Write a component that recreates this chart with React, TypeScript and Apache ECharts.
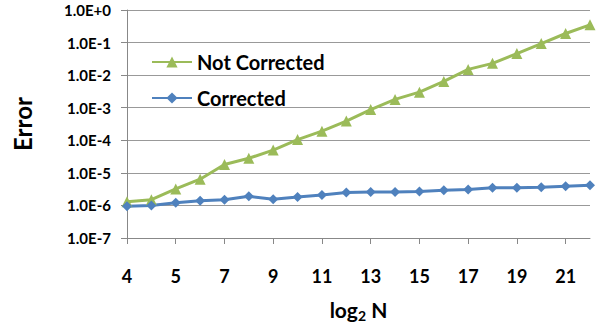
import React, { useEffect, useRef } from "react";
import * as echarts from "echarts";

const categories = ["4", "4.5", "5", "6", "7", "8", "9", "10", "11", "12", "13", "14", "15", "16", "17", "18", "19", "20", "21", "22"];
const notCorrected = [1.3e-6, 1.5e-6, 3.2e-6, 6.4e-6, 1.8e-5, 2.8e-5, 5.0e-5, 1.05e-4, 1.9e-4, 3.9e-4, 8.8e-4, 1.8e-3, 3.0e-3, 6.4e-3, 1.5e-2, 2.3e-2, 4.6e-2, 9.3e-2, 1.9e-1, 3.5e-1];
const corrected = [9.5e-7, 1.0e-6, 1.2e-6, 1.4e-6, 1.5e-6, 1.9e-6, 1.55e-6, 1.8e-6, 2.1e-6, 2.5e-6, 2.6e-6, 2.6e-6, 2.7e-6, 2.9e-6, 3.1e-6, 3.5e-6, 3.5e-6, 3.6e-6, 3.9e-6, 4.2e-6];

const FONT = "Lato, 'Open Sans', sans-serif";

export default function App() {
  const ref = useRef<HTMLDivElement>(null);
  useEffect(() => {
    const chart = echarts.init(ref.current!, null, { renderer: "svg" });
    chart.setOption({
      animation: false,
      legend: {
        left: 146,
        top: 47,
        orient: "vertical",
        itemGap: 16,
        itemWidth: 40,
        itemHeight: 14,
        textStyle: { fontFamily: FONT, fontWeight: "bold", fontSize: 20, color: "#000" },
        data: ["Not Corrected", "Corrected"],
      },
      grid: { left: 127, right: 13, top: 10, bottom: 90, containLabel: false, outerBoundsMode: "none" },
      xAxis: {
        type: "category",
        data: categories,
        boundaryGap: false,
        name: "{a|log}{b|2}{a| N}",
        nameLocation: "middle",
        nameGap: 58,
        nameTextStyle: {
          rich: {
            a: { fontFamily: FONT, fontWeight: "bold", fontSize: 21, color: "#000" },
            b: { fontFamily: FONT, fontWeight: "bold", fontSize: 14, color: "#000", padding: [12, 0, 0, 0] },
          },
        },
        axisLine: { lineStyle: { color: "#888", width: 1 } },
        axisTick: { show: true, interval: 1, length: 6, lineStyle: { color: "#888" } },
        axisLabel: { interval: 1, margin: 29, fontFamily: FONT, fontWeight: "bold", fontSize: 18, color: "#000" },
        splitLine: { show: false },
      },
      yAxis: {
        type: "log",
        logBase: 10,
        min: 1e-7,
        max: 1,
        name: "Error",
        nameLocation: "middle",
        nameGap: 93,
        nameTextStyle: { fontFamily: FONT, fontWeight: "bold", fontSize: 24, color: "#000" },
        axisLine: { show: true, lineStyle: { color: "#888", width: 1 } },
        axisTick: { show: true, length: 6, lineStyle: { color: "#888" } },
        axisLabel: {
          margin: 16,
          fontFamily: FONT,
          fontWeight: "bold",
          fontSize: 15,
          color: "#000",
          formatter: (v: number) => {
            const e = Math.round(Math.log10(v));
            return "1.0E" + (e >= 0 ? "+" + e : String(e));
          },
        },
        splitLine: { show: true, lineStyle: { color: "#999", width: 1 } },
      },
      series: [
        {
          name: "Not Corrected",
          type: "line",
          data: notCorrected,
          symbol: "triangle",
          symbolSize: 11,
          itemStyle: { color: "#9BBB59" },
          lineStyle: { color: "#9BBB59", width: 3 },
        },
        {
          name: "Corrected",
          type: "line",
          data: corrected,
          symbol: "diamond",
          symbolSize: 10,
          itemStyle: { color: "#4F81BD" },
          lineStyle: { color: "#4F81BD", width: 3 },
        },
      ],
    });
    return () => chart.dispose();
  }, []);
  return <div ref={ref} style={{ width: 603, height: 328, position: "absolute", left: 0, top: 0 }} />;
}
